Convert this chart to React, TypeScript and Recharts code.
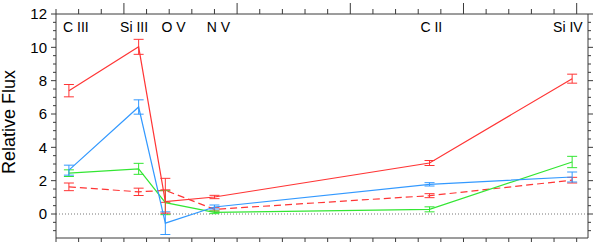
import React from 'react';
import { ComposedChart, Line, XAxis, YAxis, ErrorBar, ReferenceLine, Customized } from 'recharts';

// Ion lines and their wavelengths (Angstrom)
const ions = ['C III', 'Si III', 'O V', 'N V', 'C II', 'Si IV'];
const wavelengths = [1175.7, 1206.5, 1218.3, 1240.0, 1335.0, 1398.0];
const ionLabelPos = [1178.8, 1204.5, 1221.9, 1241.8, 1335.8, 1396.1];

// Series values and their errors
const redSolid = [7.4, 10.03, 0.75, 1.02, 3.06, 8.12];
const redSolidErr = [0.37, 0.45, 0.7, 0.1, 0.15, 0.27];
const blue = [2.63, 6.42, -0.55, 0.42, 1.78, 2.22];
const blueErr = [0.3, 0.43, 0.68, 0.12, 0.1, 0.3];
const green = [2.45, 2.71, 0.68, 0.1, 0.28, 3.12];
const greenErr = [0.2, 0.33, 0.72, 0.08, 0.15, 0.34];
const redDashed = [1.63, 1.33, 1.42, 0.28, 1.1, 2.03];
const redDashedErr = [0.23, 0.22, 0.72, 0.1, 0.12, 0.17];

// Axis ticks
const xTicks = [1170, 1180, 1190, 1200, 1210, 1220, 1230, 1240, 1250, 1260, 1270, 1280, 1290, 1300,
  1310, 1320, 1330, 1340, 1350, 1360, 1370, 1380, 1390, 1400];
const xMajor = [1200, 1250, 1300, 1350, 1400];
const yTicks = [-1, -0.5, 0, 0.5, 1, 1.5, 2, 2.5, 3, 3.5, 4, 4.5, 5, 5.5, 6, 6.5, 7, 7.5, 8, 8.5, 9,
  9.5, 10, 10.5, 11, 11.5, 12];
const yLabelTicks = [0, 2, 4, 6, 8, 10, 12];

const data = wavelengths.map((w, i) => ({
  w,
  red: redSolid[i], redErr: redSolidErr[i],
  blue: blue[i], blueErr: blueErr[i],
  green: green[i], greenErr: greenErr[i],
  redD: redDashed[i], redDErr: redDashedErr[i],
}));

const AXIS = '#3a3a3a';
const RED = '#ff3535';
const BLUE = '#3399ff';
const GREEN = '#33e633';

const BottomTick = (p: any) => {
  const major = xMajor.includes(p.payload.value);
  return <line x1={p.x} x2={p.x} y1={p.y} y2={p.y + (major ? 11 : 5)} stroke={AXIS} strokeWidth={1} />;
};
const TopTick = (p: any) => {
  const major = xMajor.includes(p.payload.value);
  return <line x1={p.x} x2={p.x} y1={p.y} y2={p.y - (major ? 11 : 5)} stroke={AXIS} strokeWidth={1} />;
};
const LeftTick = (p: any) => {
  const v = p.payload.value;
  const lab = yLabelTicks.includes(v);
  return (
    <g>
      <line x1={p.x} x2={p.x - (lab ? 5 : 3)} y1={p.y} y2={p.y} stroke={AXIS} strokeWidth={1} />
      {lab && (
        <text x={p.x - 9} y={p.y} dy="0.36em" textAnchor="end" fontSize={15} fill="#000">{v}</text>
      )}
    </g>
  );
};
const RightTick = (p: any) => {
  const v = p.payload.value;
  const lab = yLabelTicks.includes(v);
  return <line x1={p.x} x2={p.x + (lab ? 5 : 3)} y1={p.y} y2={p.y} stroke={AXIS} strokeWidth={1} />;
};

const YLabel = () => (
  <text transform="translate(15,122) rotate(-90)" x={0} y={0} textAnchor="middle" fontSize={18} fill="#000">
    Relative Flux
  </text>
);

export default function App() {
  return (
    <div style={{ position: 'absolute', left: 0, top: 0, fontFamily: '"Liberation Sans", Arial, sans-serif' }}>
      <ComposedChart width={598} height={242} data={data} margin={{ top: 0, right: 0, bottom: 0, left: 0 }}>
        <XAxis xAxisId="b" dataKey="w" type="number" domain={[1170, 1405]} ticks={xTicks} interval={0}
          height={4} tickSize={0} tickMargin={0} tickLine={false} tick={<BottomTick />}
          axisLine={{ stroke: AXIS }} allowDataOverflow />
        <XAxis xAxisId="t" orientation="top" dataKey="w" type="number" domain={[1170, 1405]} ticks={xTicks}
          interval={0} height={14} tickSize={0} tickMargin={0} tickLine={false} tick={<TopTick />}
          axisLine={{ stroke: AXIS }} allowDataOverflow />
        <YAxis yAxisId="l" type="number" domain={[-1.44, 12]} ticks={yTicks} interval={0} width={56}
          tickSize={0} tickMargin={0} tickLine={false} tick={<LeftTick />} axisLine={{ stroke: AXIS }}
          allowDataOverflow />
        <YAxis yAxisId="r" orientation="right" type="number" domain={[-1.44, 12]} ticks={yTicks} interval={0}
          width={10} tickSize={0} tickMargin={0} tickLine={false} tick={<RightTick />}
          axisLine={{ stroke: AXIS }} allowDataOverflow />
        <ReferenceLine xAxisId="b" yAxisId="l" y={0} stroke="#777" strokeDasharray="1 2" />
        {ions.map((ion, i) => (
          <ReferenceLine key={ion} xAxisId="b" yAxisId="l" x={ionLabelPos[i]} stroke="none"
            label={{ value: ion, position: 'insideTop', offset: 8, fill: '#000', fontSize: 14 }} />
        ))}
        <Line xAxisId="b" yAxisId="l" dataKey="redD" stroke={RED} strokeWidth={1.2} strokeDasharray="7 4"
          dot={false} isAnimationActive={false}>
          <ErrorBar dataKey="redDErr" direction="y" width={5} stroke={RED} strokeWidth={1} />
        </Line>
        <Line xAxisId="b" yAxisId="l" dataKey="green" stroke={GREEN} strokeWidth={1.2} dot={false}
          isAnimationActive={false}>
          <ErrorBar dataKey="greenErr" direction="y" width={5} stroke={GREEN} strokeWidth={1} />
        </Line>
        <Line xAxisId="b" yAxisId="l" dataKey="blue" stroke={BLUE} strokeWidth={1.2} dot={false}
          isAnimationActive={false}>
          <ErrorBar dataKey="blueErr" direction="y" width={5} stroke={BLUE} strokeWidth={1} />
        </Line>
        <Line xAxisId="b" yAxisId="l" dataKey="red" stroke={RED} strokeWidth={1.2} dot={false}
          isAnimationActive={false}>
          <ErrorBar dataKey="redErr" direction="y" width={5} stroke={RED} strokeWidth={1} />
        </Line>
        <Customized component={YLabel} />
      </ComposedChart>
    </div>
  );
}
